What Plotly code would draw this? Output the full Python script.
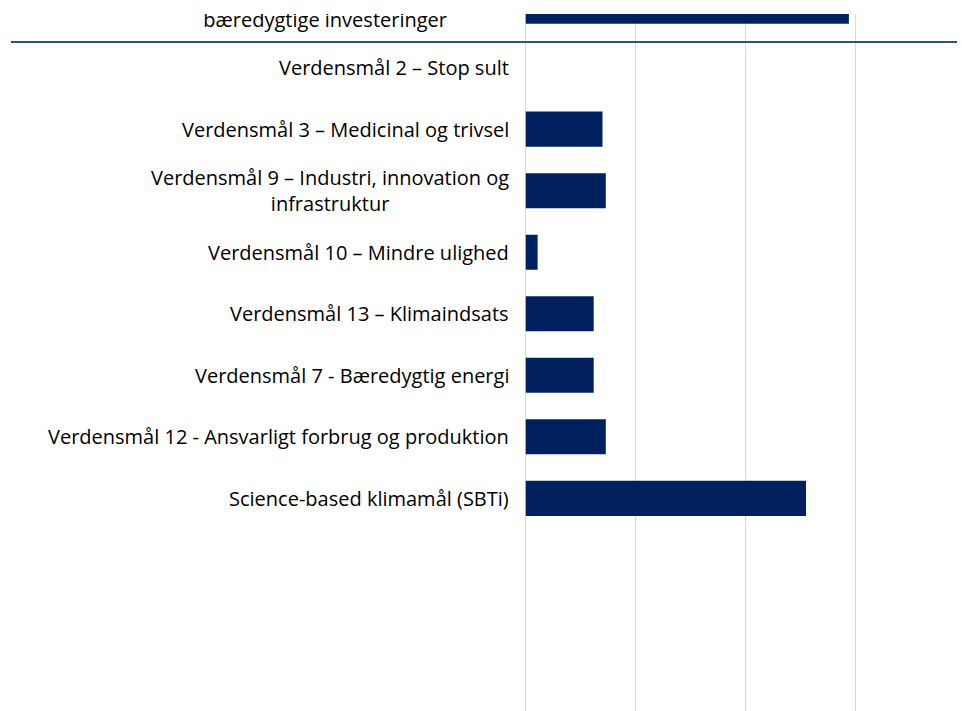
import plotly.graph_objects as go

# categories top to bottom, as shown in the chart
categories = [
    "Artikel 9-fonde med minimumsandel af bæredygtige investeringer",
    "Verdensmål 2 – Stop sult",
    "Verdensmål 3 – Medicinal og trivsel",
    "Verdensmål 9 – Industri, innovation og infrastruktur",
    "Verdensmål 10 – Mindre ulighed",
    "Verdensmål 13 – Klimaindsats",
    "Verdensmål 7 - Bæredygtig energi",
    "Verdensmål 12 - Ansvarligt forbrug og produktion",
    "Science-based klimamål (SBTi)",
]
# label text as wrapped in the picture
labels = [
    "Artikel 9-fonde med minimumsandel af<br>bæredygtige investeringer",
    "Verdensmål 2 – Stop sult",
    "Verdensmål 3 – Medicinal og trivsel",
    "Verdensmål 9 – Industri, innovation og<br>infrastruktur",
    "Verdensmål 10 – Mindre ulighed",
    "Verdensmål 13 – Klimaindsats",
    "Verdensmål 7 - Bæredygtig energi",
    "Verdensmål 12 - Ansvarligt forbrug og produktion",
    "Science-based klimamål (SBTi)",
]
values = [29.4, 0, 7.0, 7.3, 1.1, 6.2, 6.2, 7.3, 25.5]

W, H = 962, 711
navy = "#002060"
grid = "#D9D9D9"
font = "Open Sans"

fig = go.Figure()
fig.add_trace(go.Bar(
    x=values, y=categories, orientation="h",
    marker=dict(color=navy, line=dict(width=0)),
    width=0.57, showlegend=False, hoverinfo="x+y",
))

# category labels, centred lines like the original
for cat, lab in zip(categories, labels):
    fig.add_annotation(
        x=525.5 / W, xref="paper", y=cat, yref="y",
        xanchor="right", yanchor="middle", xshift=-15,
        text=lab, align="center", showarrow=False,
        font=dict(family=font, size=20, color="#000000"),
    )

# the top of the chart is cut off in the source picture
fig.add_annotation(
    x=0, y=1, xref="paper", yref="paper", xanchor="left", yanchor="top",
    text="&nbsp;", showarrow=False, width=W, height=14,
    bgcolor="white", borderpad=0, borderwidth=0, font=dict(size=1),
)

# separator line across the page
fig.add_shape(
    type="line", xref="paper", yref="paper",
    x0=11 / W, x1=957 / W, y0=1 - 42 / H, y1=1 - 42 / H,
    line=dict(color="#2F5286", width=2), layer="above",
)

fig.update_layout(
    width=W, height=H,
    margin=dict(l=0, r=0, t=0, b=0),
    plot_bgcolor="white", paper_bgcolor="white",
    xaxis=dict(
        domain=[525.5 / W, 1], range=[0, (W - 525.5) / 110 * 10],
        dtick=10, showticklabels=False, showgrid=True, gridcolor=grid,
        gridwidth=1, zeroline=True, zerolinecolor=grid, zerolinewidth=1,
        showline=False,
    ),
    yaxis=dict(
        type="category", categoryorder="array", categoryarray=categories,
        range=[(H - 6.1) / 61.53, -6.1 / 61.53],
        showticklabels=False, showgrid=False, zeroline=False,
    ),
)

fig.write_html("out.html", config={"displayModeBar": False},
               post_script="document.body.style.margin='0';")
